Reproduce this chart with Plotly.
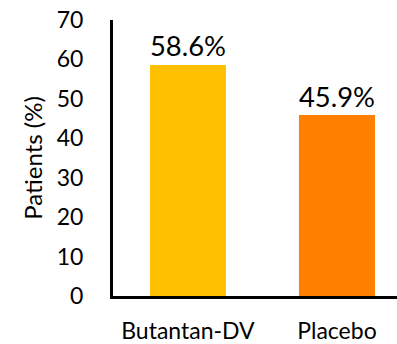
import plotly.graph_objects as go

categories = ["Butantan-DV", "Placebo"]
values = [58.6, 45.9]
labels = ["58.6%", "45.9%"]
colors = ["#FFC000", "#FF8000"]
y_ticks = [0, 10, 20, 30, 40, 50, 60, 70]

fig = go.Figure(go.Bar(
    x=categories, y=values, marker_color=colors, marker_line_width=0,
    text=labels, textposition="outside", cliponaxis=False,
    textfont=dict(size=30, color="#000000", family="Lato"),
))
fig.update_layout(
    width=397, height=344, margin=dict(l=113, r=0, t=20, b=46),
    plot_bgcolor="white", paper_bgcolor="white", showlegend=False,
    bargap=0.49, font=dict(family="Lato", color="#000000"),
)
fig.update_xaxes(range=[-0.503, 1.403], showline=True, linecolor="black", linewidth=3,
                 tickfont=dict(size=23), ticks="", showgrid=False, ticklabelstandoff=12)
fig.update_yaxes(range=[0, 70], tickvals=y_ticks, showline=True, linecolor="black", linewidth=3,
                 tickfont=dict(size=23), ticks="", showgrid=False, zeroline=False,
                 ticklabelstandoff=22,
                 title=dict(text="Patients (%)", font=dict(size=24), standoff=8))
fig.write_html("out.html")
